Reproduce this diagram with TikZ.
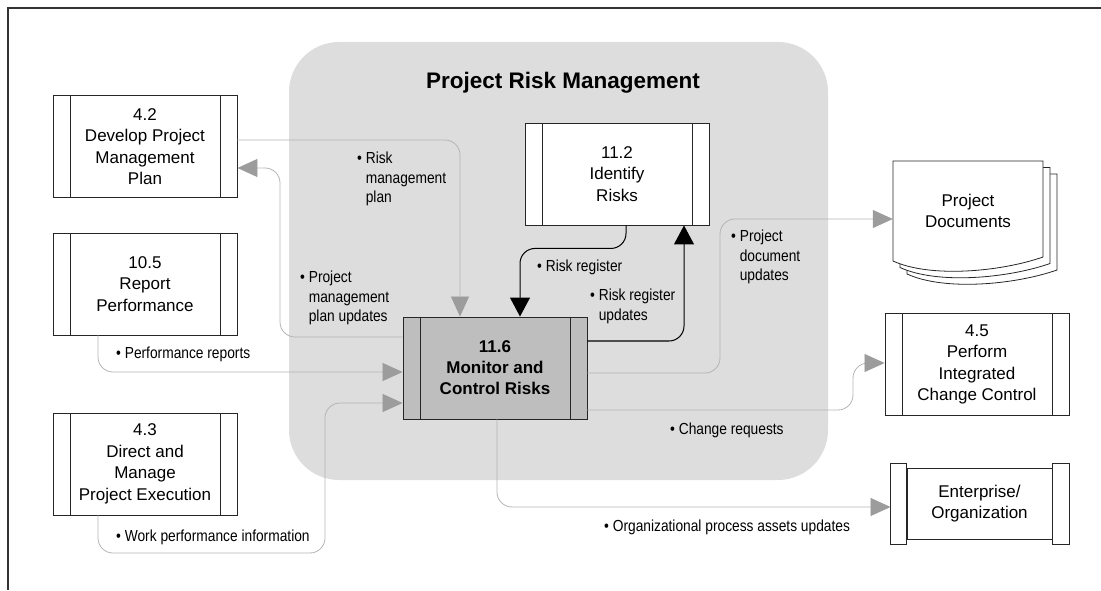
\documentclass[tikz,border=0pt]{standalone}
\usepackage{fontspec}
\setmainfont{Liberation Sans}
\newfontfamily\narrowfont{Liberation Sans}[FakeStretch=0.86]
\usetikzlibrary{arrows.meta, positioning, calc}
\definecolor{regionGray}{HTML}{DDDDDD}
\definecolor{coreGray}{HTML}{BEBEBE}
\definecolor{flowGray}{HTML}{B4B4B4}
\definecolor{tipGray}{HTML}{9C9C9C}

\begin{document}
\begin{tikzpicture}[x=1pt, y=1pt,
    boxline/.style={draw=black!85, line width=0.9pt},
    proc/.style={boxline, fill=white, minimum width=184pt, minimum height=102pt,
      inner sep=0pt, align=center, font=\fontsize{17}{21.5}\selectfont,
      path picture={\draw[black!85, line width=0.9pt]
        ([xshift=17pt]path picture bounding box.north west) -- ([xshift=17pt]path picture bounding box.south west)
        ([xshift=-17pt]path picture bounding box.north east) -- ([xshift=-17pt]path picture bounding box.south east);}},
    flow/.style={flowGray, line width=0.8pt, rounded corners=15pt,
      -{Triangle[length=20pt, width=18pt, color=tipGray]}},
    reg/.style={black, line width=1pt, rounded corners=15pt,
      -{Triangle[length=19pt, width=20pt]}},
    lbl/.style={anchor=base west, inner sep=0pt, font=\narrowfont\fontsize{16}{19.5}\selectfont}]
  \useasboundingbox (0,0) rectangle (1101,590);

  % frame and process group
  \draw[black!80, line width=1.3pt] (8,0) -- (8,582) -- (1101,582);
  \fill[regionGray, rounded corners=50pt] (289,110) rectangle (828,548);
  \node[font=\bfseries\fontsize{22.5}{27}\selectfont] (title) at (563,507) {Project Risk Management};

  % processes
  \node[proc] (dev42) at (145,443.5) {4.2\\Develop Project\\Management\\Plan};
  \node[proc] (rep105) at (145,306) {10.5\\Report\\Performance};
  \node[proc] (dir43) at (145,126) {4.3\\Direct and\\Manage\\Project Execution};
  \node[proc] (id112) at (617,416) {11.2\\Identify\\Risks};
  \node[proc, fill=coreGray, font=\bfseries\fontsize{17}{21}\selectfont] (mon116) at (495,222)
    {11.6\\Monitor and\\Control Risks};
  \node[proc] (pic45) at (977,225.5) {4.5\\Perform\\Integrated\\Change Control};

  % project documents (stacked pages)
  \foreach \k in {2,1,0}
    \draw[boxline, line width=0.8pt, fill=white, shift={(7*\k,-6.5*\k)}]
      (893,429) -- (1043,429) -- (1043,333) .. controls (1000,318) and (930,312) .. (893,329) -- cycle;
  \node[minimum width=150pt, minimum height=100pt, inner sep=0pt, align=center,
    font=\fontsize{17}{21.5}\selectfont] (docs) at (968,379) {Project\\Documents};

  % enterprise
  \node[boxline, fill=white, minimum width=145pt, minimum height=71pt, inner sep=0pt, align=center,
    font=\fontsize{17}{21}\selectfont] (ent) at (979.5,86.5) {Enterprise/\\Organization};
  \draw[boxline, fill=white] ([xshift=-16pt,yshift=4.5pt]ent.north west) rectangle ([yshift=-4.5pt]ent.south west);
  \draw[boxline, fill=white] ([yshift=4.5pt]ent.north east) rectangle ([xshift=17pt,yshift=-4.5pt]ent.south east);

  % flows
  \draw[flow] ([yshift=6.5pt]dev42.east) -| ([xshift=-35pt]mon116.north);
  \draw[flow] ([yshift=31pt]mon116.west) -| (280,422) -- ([yshift=-21.5pt]dev42.east);
  \draw[flow] ([xshift=-47pt]rep105.south) |- ([yshift=-4pt]mon116.west);
  \draw[flow] ([xshift=-47pt]dir43.south) |- (325,37) |- ([yshift=-35pt]mon116.west);
  \draw[reg] ([xshift=9pt]id112.south) -- ++(0,-23) -| ([xshift=25pt]mon116.north);
  \draw[reg] ([yshift=27pt]mon116.east) -| ([xshift=67pt]id112.south);
  \draw[flow] ([yshift=-5pt]mon116.east) -| (720,371) -- ([yshift=-8pt]docs.west);
  \draw[flow] ([yshift=-42pt]mon116.east) -| (853,227) -- ([yshift=1.5pt]pic45.west);
  \draw[flow] ([xshift=2pt]mon116.south) |- ([xshift=-16pt,yshift=-3.5pt]ent.west);

  % flow labels
  \node[lbl] (lrmp) at (357,426) {\textbullet~\begin{tabular}[t]{@{}l@{}}Risk\\management\\plan\end{tabular}};
  \node[lbl] (lpmp) at (300,307) {\textbullet~\begin{tabular}[t]{@{}l@{}}Project\\management\\plan updates\end{tabular}};
  \node[lbl] (lperf) at (116,232) {\textbullet~Performance reports};
  \node[lbl] (lwpi) at (116,49) {\textbullet~Work performance information};
  \node[lbl] (lrr) at (537,318) {\textbullet~Risk register};
  \node[lbl] (lrru) at (590,289) {\textbullet~\begin{tabular}[t]{@{}l@{}}Risk register\\updates\end{tabular}};
  \node[lbl] (lpdu) at (731,348) {\textbullet~\begin{tabular}[t]{@{}l@{}}Project\\document\\updates\end{tabular}};
  \node[lbl] (lcr) at (670,156) {\textbullet~Change requests};
  \node[lbl] (lopa) at (604,59) {\textbullet~Organizational process assets updates};
\end{tikzpicture}
\end{document}
